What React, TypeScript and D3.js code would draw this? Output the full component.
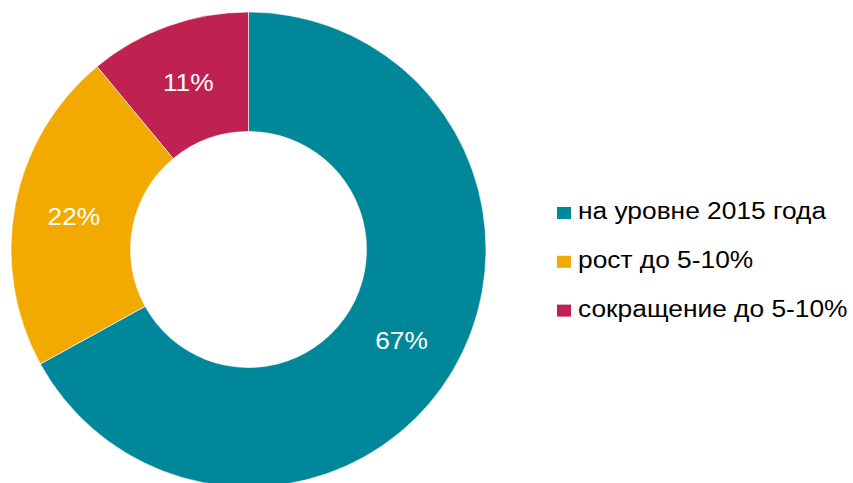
import React from "react";
import * as d3 from "d3";

const categories = ["на уровне 2015 года", "рост до 5-10%", "сокращение до 5-10%"];
const values = [67, 22, 11];
const colors = ["#00879A", "#F2AA00", "#BF2150"];

const W = 853;
const H = 483;
const cx = 248.5;
const cy = 249.5;
const outerR = 237.5;
const innerR = 118;
const stretch = 1.075;

export default function App() {
  const pie = d3.pie<number>().sort(null).value((d) => d);
  const arcs = pie(values);
  const arc = d3.arc<d3.PieArcDatum<number>>().innerRadius(innerR).outerRadius(outerR);
  const legendX = 557;
  const legendY0 = 219;
  const legendStep = 48.8;
  return (
    <svg width={W} height={H} style={{ position: "absolute", left: 0, top: 0, fontFamily: "Liberation Sans, Arial, sans-serif" }}>
      <rect width={W} height={H} fill="#fff" />
      <g transform={`translate(${cx},${cy})`}>
        {arcs.map((a, i) => (
          <path key={i} d={arc(a) || ""} fill={colors[i]} stroke="#fff" strokeWidth={0.6} />
        ))}
        {arcs.map((a, i) => {
          const [x, y] = arc.centroid(a);
          return (
            <text key={i} transform={`translate(${x},${y}) scale(${stretch},1)`} fill="#fff" fontSize={24.5} textAnchor="middle" dominantBaseline="central">
              {values[i]}%
            </text>
          );
        })}
      </g>
      {categories.map((c, i) => {
        const by = legendY0 + i * legendStep;
        return (
          <g key={c}>
            <rect x={legendX} y={by - 12} width={14} height={12} fill={colors[i]} />
            <text transform={`translate(${legendX + 21},${by}) scale(${stretch},1)`} fontSize={24.5} fill="#000">
              {c}
            </text>
          </g>
        );
      })}
    </svg>
  );
}
